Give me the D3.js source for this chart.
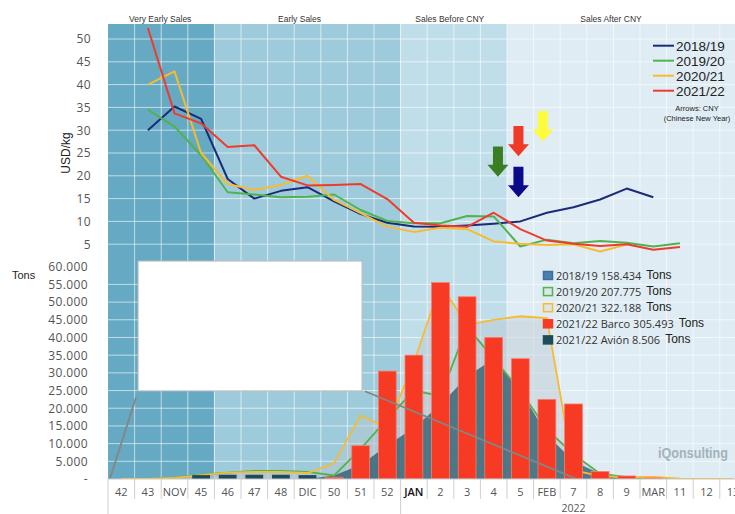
<!DOCTYPE html>
<html>
<head>
<meta charset="utf-8">
<script src="https://cdn.jsdelivr.net/npm/d3@7"></script>
<style>
  body { margin: 0; background: #fff; }
  svg { display: block; }
  text { font-family: "Liberation Sans", Arial, sans-serif; }
  .num { font-family: "Open Sans", sans-serif; }
</style>
</head>
<body>
<div id="chart"></div>
<script>
// weeks of the season
const weeks = ["42","43","NOV","45","46","47","48","DIC","50","51","52","JAN","2","3","4","5","FEB","7","8","9","MAR","11","12","13"];

// price lines, USD/kg (null = no price that week)
const seasons = ["2018/19","2019/20","2020/21","2021/22"];
const seasonColors = ["#1b2b78","#4fb34f","#f6bb30","#ef3b2c"];
const price1819 = [null,30,35.2,32.5,19.3,15,16.7,17.5,14.4,11.6,9.7,8.9,8.8,9.1,9.5,10,11.9,13.1,14.8,17.2,15.3,null,null,null];
const price1920 = [null,34.5,30.8,24.5,16.4,15.9,15.3,15.4,15.9,12.5,10.1,9.6,9.6,11.2,11.1,4.5,6,5.2,5.7,5.3,4.5,5.2,null,null];
const price2021 = [null,40,42.9,25,18.2,16.9,18,20,14.7,11.8,8.8,7.7,8.6,8.3,5.6,5.1,4.8,5,3.4,4.9,null,null,null,null];
const price2122 = [null,52.4,33.7,31.5,26.3,26.7,19.8,17.9,18,18.2,14.9,9.7,9.1,8.8,11.9,8.3,5.8,5.1,4.6,5,3.8,4.4,null,null];

// volumes, tons per week
const tons1819 = [0,0,0,0,0,0,0,0,1000,4000,9500,14500,21000,29000,34000,25000,12500,5000,1500,400,0,0,0,0];
const tons1920 = [0,0,300,1200,1800,2300,2300,2000,1000,8500,17000,25000,23500,43000,34000,25000,14000,7000,1500,500,200,0,0,0];
const tons2021 = [0,0,300,1100,1800,2000,2000,1700,4500,18000,14500,33000,55000,43500,45000,46000,45500,2500,800,500,600,100,0,0];
const barco2122 = [0,0,0,0,0,0,0,0,500,9400,30500,35000,55500,51500,40000,34000,22500,21200,2100,850,300,0,0,0];
const avion2122 = [0,0,0,1100,1200,1200,1200,1100,0,0,0,0,0,0,0,0,0,0,0,0,0,0,0,0];

const tonLegend = ["2018/19 158.434","2019/20 207.775","2020/21 322.188","2021/22 Barco 305.493","2021/22 Avión 8.506"];

// sales phases
const sections = ["Very Early Sales","Early Sales","Sales Before CNY","Sales After CNY"];
const sectionStart = ["42","46","JAN","5"];

// chinese new year arrows: week position (index), arrow top/tip in USD/kg
const cnyArrows = [
  {season: "2019/20", pos: 14.16, top: 26.4, tip: 19.8, color: "#3a7d23"},
  {season: "2021/22", pos: 14.93, top: 30.9, tip: 24.3, color: "#ee3a26"},
  {season: "2018/19", pos: 14.93, top: 22.0, tip: 15.3, color: "#0b0b8a"},
  {season: "2020/21", pos: 15.85, top: 34.2, tip: 27.5, color: "#fcfc3c"}
];

const W = 735, H = 514;
const svg = d3.select("#chart").append("svg").attr("width", W).attr("height", H);

const x = d3.scaleBand().domain(weeks).range([108, 746.4]);
const xBar = d3.scaleBand().domain(weeks).range([108, 746.4]).paddingInner(0.33).paddingOuter(0.165);
const xPos = d3.scaleLinear().domain([0, weeks.length]).range([108, 746.4]);
const cx = w => x(w) + x.bandwidth() / 2;

const yTop = d3.scaleLinear().domain([0, 50]).range([267, 39]);
const yBot = d3.scaleLinear().domain([0, 60000]).range([479, 266.7]);

const plotTop = 24, plotBottom = 479;

svg.append("clipPath").attr("id", "plot")
  .append("rect").attr("x", 108).attr("y", plotTop).attr("width", W - 108).attr("height", plotBottom - plotTop);

// backgrounds per phase
const secEnd = i => i < sections.length - 1 ? x(sectionStart[i + 1]) : 746.4;
svg.append("g").selectAll("rect").data(sections).join("rect")
  .attr("x", (d, i) => x(sectionStart[i]))
  .attr("y", plotTop)
  .attr("width", (d, i) => secEnd(i) - x(sectionStart[i]))
  .attr("height", plotBottom - plotTop)
  .attr("fill", (d, i) => ["#66a9c3","#9ecbdb","#c0dee9","#dfecf3"][i]);

svg.append("g").selectAll("text").data(sections).join("text")
  .attr("x", (d, i) => (x(sectionStart[i]) + Math.min(secEnd(i), W)) / 2 - [1, 8, 4, 10][i])
  .attr("y", 22)
  .attr("text-anchor", "middle")
  .attr("font-size", 8.5)
  .attr("fill", "#333")
  .text(d => d);

// grid
const grid = svg.append("g").attr("stroke", "#fff").attr("stroke-opacity", 0.6).attr("stroke-width", 1);
grid.selectAll("line.h1").data(d3.range(5, 51, 5)).join("line")
  .attr("class", "h1")
  .attr("x1", 108).attr("x2", W).attr("y1", d => yTop(d)).attr("y2", d => yTop(d));
grid.selectAll("line.h2").data(d3.range(5000, 60000, 5000)).join("line")
  .attr("class", "h2")
  .attr("x1", 108).attr("x2", W).attr("y1", d => yBot(d)).attr("y2", d => yBot(d));
grid.selectAll("line.v").data(weeks.slice(1)).join("line")
  .attr("class", "v")
  .attr("x1", d => x(d)).attr("x2", d => x(d)).attr("y1", plotTop).attr("y2", plotBottom);

// ---- bottom: volumes
const bot = svg.append("g").attr("clip-path", "url(#plot)");
const area = d3.area().x((d, i) => cx(weeks[i])).y0(yBot(0)).y1(d => yBot(d));
const botLine = d3.line().x((d, i) => cx(weeks[i])).y(d => yBot(d));

bot.append("path").datum(tons1920).attr("d", area).attr("fill", "#b9c6cc").attr("fill-opacity", 0.4);
bot.append("path").datum(tons2021).attr("d", area).attr("fill", "#b9c6cc").attr("fill-opacity", 0.4);
bot.append("path").datum(tons1819).attr("d", area).attr("fill", "#1f5467").attr("fill-opacity", 0.72);
bot.append("path").datum(tons1920).attr("d", botLine).attr("fill", "none").attr("stroke", "#4fb34f").attr("stroke-width", 1.8);
bot.append("path").datum(tons2021).attr("d", botLine).attr("fill", "none").attr("stroke", "#f6bb30").attr("stroke-width", 1.8);

bot.selectAll("rect.av").data(avion2122).join("rect")
  .attr("class", "av")
  .attr("x", (d, i) => xBar(weeks[i])).attr("width", xBar.bandwidth())
  .attr("y", d => yBot(d)).attr("height", d => yBot(0) - yBot(d))
  .attr("fill", "#1e4b5b");

bot.selectAll("rect.bar").data(barco2122).join("rect")
  .attr("class", "bar")
  .attr("x", (d, i) => xBar(weeks[i])).attr("width", xBar.bandwidth())
  .attr("y", d => yBot(d)).attr("height", d => yBot(0) - yBot(d))
  .attr("fill", "#f63a23").attr("stroke", "#ff7a6b").attr("stroke-width", d => d > 0 ? 0.8 : 0);

// leftover callout of a hidden inset (position in weeks / tons)
const callLines = [
  [[0.07, 0], [1.05, 23000]],
  [[9.66, 24800], [17.56, 200]]
];
bot.selectAll("line.call").data(callLines).join("line")
  .attr("class", "call")
  .attr("x1", d => xPos(d[0][0])).attr("y1", d => yBot(d[0][1]))
  .attr("x2", d => xPos(d[1][0])).attr("y2", d => yBot(d[1][1]))
  .attr("stroke", "#858585").attr("stroke-width", 1.8);
const box = {from: 1.13, to: 9.55, top: 61600, bottom: 24900};
svg.append("rect")
  .attr("x", xPos(box.from)).attr("y", yBot(box.top))
  .attr("width", xPos(box.to) - xPos(box.from)).attr("height", yBot(box.bottom) - yBot(box.top))
  .attr("fill", "#fff").attr("stroke", "#bbb").attr("stroke-width", 1);

// watermark
svg.append("text").attr("x", 658).attr("y", 458)
  .attr("font-size", 15.5).attr("font-weight", "bold").attr("fill", "#a3b3bb")
  .attr("textLength", 70).attr("lengthAdjust", "spacingAndGlyphs")
  .text("iQonsulting");

// ---- top: prices
const priceG = svg.append("g").attr("clip-path", "url(#plot)");
const priceLine = d3.line().defined(d => d != null).x((d, i) => cx(weeks[i])).y(d => yTop(d));
[price1819, price1920, price2021, price2122].forEach((p, k) => {
  priceG.append("path").datum(p).attr("d", priceLine)
    .attr("fill", "none").attr("stroke", seasonColors[k]).attr("stroke-width", 2)
    .attr("stroke-linejoin", "round");
});

// CNY arrows
svg.append("g").selectAll("path").data(cnyArrows).join("path")
  .attr("d", a => {
    const c = xPos(a.pos + 0.5), t = yTop(a.top), p = yTop(a.tip), h = p - 12;
    return `M${c-5},${t}L${c+5},${t}L${c+5},${h}L${c+10.5},${h}L${c},${p}L${c-10.5},${h}L${c-5},${h}Z`;
  })
  .attr("fill", a => a.color);

// top legend
const lg = svg.append("g").selectAll("g").data(seasons).join("g")
  .attr("transform", (d, i) => `translate(653,${45.7 + i * 15})`);
lg.append("line").attr("x1", 0).attr("x2", 21).attr("stroke", (d, i) => seasonColors[i]).attr("stroke-width", 2);
lg.append("text").attr("x", 23).attr("y", 5).attr("font-size", 13.5).attr("fill", "#222").text(d => d);
svg.append("text").attr("x", 697).attr("y", 111).attr("text-anchor", "middle").attr("font-size", 7.5).attr("fill", "#222").text("Arrows: CNY");
svg.append("text").attr("x", 697).attr("y", 120.5).attr("text-anchor", "middle").attr("font-size", 7.5).attr("fill", "#222").text("(Chinese New Year)");

// bottom legend
const swatch = [
  {fill: "#4a7fb0", stroke: "#3e6f9c"},
  {fill: "#dde5e9", stroke: "#4fb34f"},
  {fill: "#dde5e9", stroke: "#f6bb30"},
  {fill: "#f63a23", stroke: "#f63a23"},
  {fill: "#1e4b5b", stroke: "#1e4b5b"}
];
const bl = svg.append("g").selectAll("g").data(tonLegend).join("g")
  .attr("transform", (d, i) => `translate(543,${275.5 + i * 16.1})`);
bl.append("rect").attr("x", 0.5).attr("y", -4).attr("width", 9).attr("height", 8)
  .attr("fill", (d, i) => swatch[i].fill).attr("stroke", (d, i) => swatch[i].stroke).attr("stroke-width", 1.5);
bl.append("text").attr("class", "num").attr("x", 13).attr("y", 4).attr("font-size", 11).attr("fill", "#333")
  .text(d => d)
  .each(function() {
    const w = this.getComputedTextLength();
    d3.select(this.parentNode).append("text").attr("x", 13 + w + 5).attr("y", 3.5)
      .attr("font-size", 12).attr("fill", "#222").text("Tons");
  });

// y axes
const deLocale = d3.formatLocale({decimal: ",", thousands: ".", grouping: [3], currency: ["", ""]});
const fmt = deLocale.format(",.0f");

const axTop = svg.append("g").attr("transform", "translate(91,0)")
  .call(d3.axisLeft(yTop).tickValues(d3.range(5, 51, 5)).tickSize(0).tickPadding(0));
const axBot = svg.append("g").attr("transform", "translate(88,0)")
  .call(d3.axisLeft(yBot).tickValues(d3.range(0, 60001, 5000)).tickSize(0).tickPadding(0)
    .tickFormat(d => d === 0 ? "-" : fmt(d)));
[axTop, axBot].forEach(a => {
  a.select(".domain").remove();
  a.selectAll("text").attr("class", "num").attr("font-size", 12).attr("fill", "#555")
    .attr("letter-spacing", "0.4px");
});

svg.append("text").attr("transform", "translate(70,153) rotate(-90)")
  .attr("text-anchor", "middle").attr("font-size", 12).attr("fill", "#222").text("USD/kg");
svg.append("text").attr("x", 12).attr("y", 279).attr("font-size", 11).attr("fill", "#222").text("Tons");

// x axis
const ax = svg.append("g");
ax.append("line").attr("x1", 108).attr("x2", W).attr("y1", plotBottom).attr("y2", plotBottom).attr("stroke", "#c8c8c8");
ax.selectAll("line.d").data(weeks).join("line")
  .attr("class", "d")
  .attr("x1", d => x(d)).attr("x2", d => x(d))
  .attr("y1", plotBottom).attr("y2", d => (d === "42" || d === "JAN") ? H : 499)
  .attr("stroke", "#cfcfcf");
ax.selectAll("text").data(weeks).join("text")
  .attr("class", "num")
  .attr("x", d => cx(d)).attr("y", 496)
  .attr("text-anchor", "middle").attr("font-size", 11)
  .attr("fill", d => d === "JAN" ? "#111" : "#555")
  .attr("font-weight", d => d === "JAN" ? 600 : 400)
  .text(d => d);
svg.append("text").attr("class", "num").attr("x", (x("JAN") + 746.4) / 2).attr("y", 512)
  .attr("text-anchor", "middle").attr("font-size", 10.5).attr("fill", "#555").text("2022");
</script>
</body>
</html>
